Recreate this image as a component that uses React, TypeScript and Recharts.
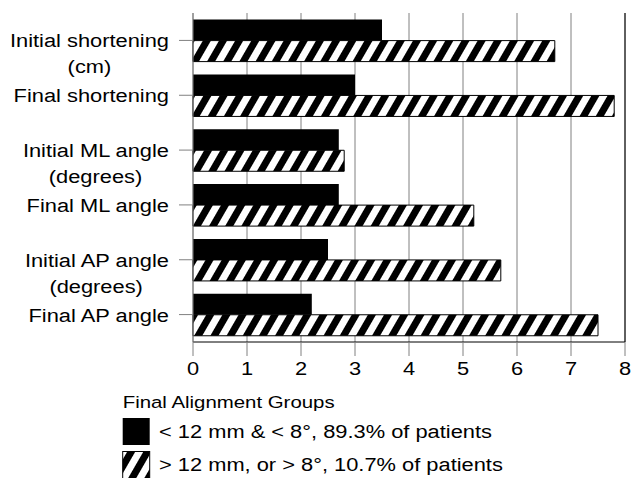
import React from 'react';
import { Bar, BarChart, CartesianGrid, ReferenceLine, XAxis, YAxis } from 'recharts';

const categories = [
  "Initial shortening\n(cm)",
  "Final shortening",
  "Initial ML angle\n(degrees)",
  "Final ML angle",
  "Initial AP angle\n(degrees)",
  "Final AP angle",
];
const underValues = [3.5, 3.0, 2.7, 2.7, 2.5, 2.2];
const overValues = [6.7, 7.8, 2.8, 5.2, 5.7, 7.5];
const xTicks = [0, 1, 2, 3, 4, 5, 6, 7, 8];
const legendTitle = "Final Alignment Groups";
const seriesNames = ["< 12 mm & < 8°, 89.3% of patients", "> 12 mm, or > 8°, 10.7% of patients"];

const FONT = '"Liberation Sans", Arial, sans-serif';
const FS = 19;
const SX = 1.15;

const data = categories.map((name, i) => ({ name, under: underValues[i], over: overValues[i] }));

let ctx: CanvasRenderingContext2D | null = null;
const measure = (s: string) => {
  if (!ctx) ctx = document.createElement('canvas').getContext('2d');
  if (!ctx) return s.length * FS * 0.5;
  ctx.font = `${FS}px "Liberation Sans"`;
  return ctx.measureText(s).width;
};

const YTick = (props: any) => {
  const { x, y, payload } = props;
  const lines = String(payload.value).split("\n");
  const w = measure(lines[0]);
  return (
    <g transform={`translate(${x},${y}) scale(${SX},1)`}>
      <text x={0} y={7} textAnchor="end" fontFamily={FONT} fontSize={FS} fill="#000">{lines[0]}</text>
      {lines[1] && (
        <text x={-w / 2} y={33} textAnchor="middle" fontFamily={FONT} fontSize={FS} fill="#000">{lines[1]}</text>
      )}
    </g>
  );
};

const XTick = (props: any) => {
  const { x, y, payload } = props;
  return (
    <g transform={`translate(${x},${y + 17}) scale(${SX},1)`}>
      <text x={0} y={0} textAnchor="middle" fontFamily={FONT} fontSize={FS} fill="#000">{payload.value}</text>
    </g>
  );
};

export default function App() {
  return (
    <div style={{ position: 'absolute', left: 0, top: 0, width: 634, height: 478, background: '#fff', overflow: 'hidden' }}>
      <BarChart
        width={634}
        height={478}
        data={data}
        layout="vertical"
        margin={{ top: 13, right: 9, bottom: 96, left: 0 }}
        barCategoryGap={6.6}
        barGap={0}
      >
        <CartesianGrid horizontal={false} stroke="#808080" />
        <XAxis
          type="number"
          domain={[0, 8]}
          ticks={xTicks}
          interval={0}
          height={40}
          axisLine={{ stroke: '#000' }}
          tickLine={{ stroke: '#808080' }}
          tickSize={14}
          tick={<XTick />}
        />
        <YAxis
          type="category"
          dataKey="name"
          width={193}
          interval={0}
          axisLine={{ stroke: '#808080' }}
          tickLine={{ stroke: '#808080' }}
          tickSize={14}
          tickMargin={10}
          tick={<YTick />}
        />
        <Bar dataKey="under" name={seriesNames[0]} fill="#000" isAnimationActive={false} />
        <Bar dataKey="over" name={seriesNames[1]} fill="url(#hatch)" stroke="#000" strokeWidth={1} isAnimationActive={false} />
        <ReferenceLine x={8} stroke="#000" />
      </BarChart>
      <svg width={634} height={478} style={{ position: 'absolute', left: 0, top: 0, pointerEvents: 'none' }}>
        <defs>
          <pattern id="hatch" patternUnits="userSpaceOnUse" width="14" height="14" patternTransform="rotate(30)">
            <rect width="14" height="14" fill="#fff" />
            <rect width="7" height="14" fill="#000" />
          </pattern>
        </defs>
        <g transform="translate(122.7,408) scale(1.2,1)">
          <text fontFamily={FONT} fontSize={17} fill="#000">{legendTitle}</text>
        </g>
        <rect x={122.7} y={418} width={27} height={27} fill="#000" />
        <g transform={`translate(159,438) scale(${SX},1)`}>
          <text fontFamily={FONT} fontSize={FS} fill="#000">{seriesNames[0]}</text>
        </g>
        <rect x={122.7} y={451.5} width={27} height={27} fill="url(#hatch)" stroke="#000" strokeWidth={1} />
        <g transform={`translate(159,471) scale(${SX},1)`}>
          <text fontFamily={FONT} fontSize={FS} fill="#000">{seriesNames[1]}</text>
        </g>
      </svg>
    </div>
  );
}
